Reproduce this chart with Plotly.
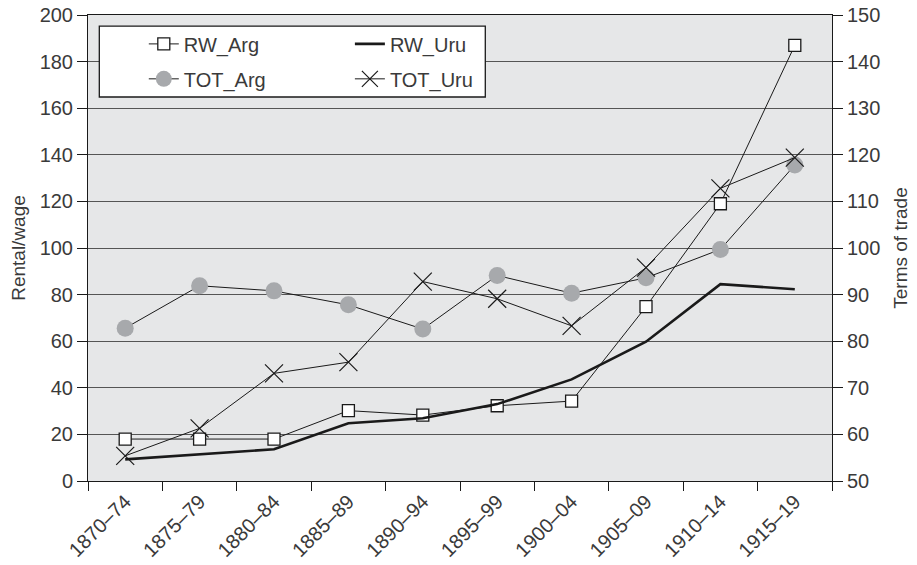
import plotly.graph_objects as go

periods = ["1870–74", "1875–79", "1880–84", "1885–89", "1890–94",
           "1895–99", "1900–04", "1905–09", "1910–14", "1915–19"]
rw_arg = [18.0, 18.0, 18.0, 30.2, 28.3, 32.3, 34.3, 74.8, 119.0, 187.0]
rw_uru = [9.3, 11.4, 13.6, 24.8, 26.9, 33.0, 43.6, 59.8, 84.5, 82.3]
tot_arg = [82.8, 91.9, 90.8, 87.8, 82.6, 94.1, 90.3, 93.6, 99.7, 117.8]
tot_uru = [55.4, 61.3, 73.1, 75.5, 92.8, 89.1, 83.3, 95.8, 112.8, 119.4]

FONT = "Liberation Sans"
TXT = "#3a3a3a"

fig = go.Figure()
fig.add_trace(go.Scatter(x=periods, y=rw_arg, name="RW_Arg", mode="lines+markers",
                         line=dict(color="#1a1a1a", width=1),
                         marker=dict(symbol="square", size=12, color="white",
                                     line=dict(color="#1a1a1a", width=1.3)),
                         legend="legend", yaxis="y"))
fig.add_trace(go.Scatter(x=periods, y=rw_uru, name="RW_Uru", mode="lines",
                         line=dict(color="#1a1a1a", width=2.6),
                         legend="legend2", yaxis="y"))
fig.add_trace(go.Scatter(x=periods, y=tot_arg, name="TOT_Arg", mode="lines+markers",
                         line=dict(color="#1a1a1a", width=1),
                         marker=dict(symbol="circle", size=17, color="#a7a9ac",
                                     line=dict(width=0)),
                         legend="legend3", yaxis="y2"))
fig.add_trace(go.Scatter(x=periods, y=tot_uru, name="TOT_Uru", mode="lines+markers",
                         line=dict(color="#1a1a1a", width=1),
                         marker=dict(symbol="x-thin-open", size=18,
                                     line=dict(color="#1a1a1a", width=1.2)),
                         legend="legend4", yaxis="y2"))

leg_common = dict(bgcolor="rgba(0,0,0,0)", borderwidth=0,
                  font=dict(family=FONT, size=20, color=TXT),
                  xanchor="left", yanchor="middle")
fig.update_layout(
    width=917, height=565,
    margin=dict(l=88, r=85, t=15, b=84),
    paper_bgcolor="white",
    plot_bgcolor="#e6e7e8",
    showlegend=True,
    font=dict(family=FONT, size=20, color=TXT),
    legend=dict(x=0.075, y=0.938, **leg_common),
    legend2=dict(x=0.352, y=0.938, **leg_common),
    legend3=dict(x=0.075, y=0.863, **leg_common),
    legend4=dict(x=0.352, y=0.863, **leg_common),
    xaxis=dict(type="category", range=[-0.5, 9.5], tickson="boundaries",
               ticks="outside", ticklen=9, tickcolor="#1a1a1a",
               showline=True, linecolor="#1a1a1a", linewidth=1, mirror=True,
               showgrid=False, tickangle=-45, automargin=False,
               tickfont=dict(family=FONT, size=20, color=TXT)),
    yaxis=dict(range=[0, 200], dtick=20, ticks="outside", ticklen=10,
               tickcolor="#1a1a1a", showline=True, linecolor="#1a1a1a",
               linewidth=1, showgrid=True, gridcolor="#555555", gridwidth=1,
               zeroline=False, automargin=False,
               title=dict(text="Rental/wage", standoff=8,
                          font=dict(family=FONT, size=19, color=TXT)),
               tickfont=dict(family=FONT, size=20, color=TXT)),
    yaxis2=dict(range=[50, 150], dtick=10, overlaying="y", side="right",
                ticks="outside", ticklen=10, tickcolor="#1a1a1a",
                showline=True, linecolor="#1a1a1a", linewidth=1,
                showgrid=False, zeroline=False, automargin=False,
                title=dict(text="Terms of trade", standoff=14,
                           font=dict(family=FONT, size=19, color=TXT)),
                tickfont=dict(family=FONT, size=20, color=TXT)),
    shapes=[dict(type="rect", xref="paper", yref="paper",
                 x0=0.0152, x1=0.534, y0=0.824, y1=0.976,
                 fillcolor="white", line=dict(color="#1a1a1a", width=1.3),
                 layer="above")],
)

fig.write_html("out.html", config={"displayModeBar": False},
               post_script="document.body.style.margin='0';document.body.style.overflow='hidden';")
